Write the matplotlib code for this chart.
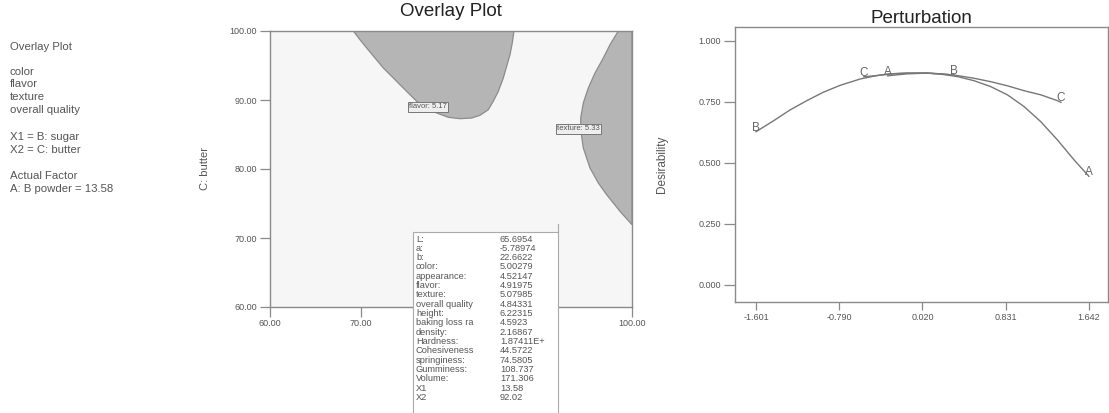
import matplotlib
matplotlib.use("Agg")
import matplotlib.pyplot as plt
from matplotlib.patches import Rectangle, Polygon
from matplotlib.lines import Line2D

plt.rcParams['font.family'] = ['Liberation Sans', 'DejaVu Sans']

# ---------------- data ----------------
side_lines = ["Overlay Plot", "color", "flavor", "texture", "overall quality",
              "X1 = B: sugar", "X2 = C: butter", "Actual Factor", "A: B powder = 13.58"]

overlay_ticks = [60, 70, 80, 90, 100]
overlay_ticklabels = ["60.00", "70.00", "", "", "100.00"]   # 80/90 hidden under the info box
overlay_yticklabels = ["60.00", "70.00", "80.00", "90.00", "100.00"]

# flavor region boundary (sugar, butter)
flavor_x = [69.21, 69.94, 70.68, 71.60, 72.52, 73.45, 74.36, 75.28, 76.21, 77.31, 78.42, 79.70,
            80.99, 82.29, 83.20, 84.12, 84.67, 85.23, 85.78, 86.15, 86.52, 86.77, 86.96]
flavor_y = [100.0, 98.74, 97.54, 96.09, 94.64, 93.43, 92.22, 91.01, 89.81, 88.84, 88.12, 87.49,
            87.29, 87.39, 87.78, 88.59, 89.81, 91.26, 93.19, 94.88, 96.57, 98.26, 100.0]
# texture region boundary
texture_x = [98.49, 97.57, 96.83, 95.91, 95.17, 94.62, 94.33, 94.36, 94.62, 95.36, 96.28,
             97.20, 98.67, 100.0]
texture_y = [100.0, 98.02, 96.09, 93.91, 91.74, 89.57, 87.39, 85.46, 83.04, 80.14, 77.97,
             76.28, 73.87, 71.93]

flag_flavor = ("flavor: 5.17", 77.5, 89.0)
flag_texture = ("texture: 5.33", 94.1, 85.8)

info_labels = ["L:", "a:", "b:", "color:", "appearance:", "flavor:", "texture:",
               "overall quality", "height:", "baking loss ra", "density:", "Hardness:",
               "Cohesiveness", "springiness:", "Gumminess:", "Volume:", "X1", "X2"]
info_values = ["65.6954", "-5.78974", "22.6622", "5.00279", "4.52147", "4.91975", "5.07985",
               "4.84331", "6.22315", "4.5923", "2.16867", "1.87411E+", "44.5722", "74.5805",
               "108.737", "171.306", "13.58", "92.02"]

pert_xticks = [-1.601, -0.790, 0.020, 0.831, 1.642]
pert_xticklabels = ["-1.601", "-0.790", "0.020", "0.831", "1.642"]
pert_yticks = [0.0, 0.25, 0.5, 0.75, 1.0]
pert_yticklabels = ["0.000", "0.250", "0.500", "0.750", "1.000"]

A_x = [-0.32, -0.13, 0.066, 0.196, 0.359, 0.522, 0.684, 0.848, 1.010, 1.173, 1.336, 1.498, 1.642]
A_y = [0.857, 0.865, 0.868, 0.864, 0.854, 0.837, 0.813, 0.779, 0.731, 0.669, 0.594, 0.512, 0.445]
B_x = [-1.601, -1.433, -1.270, -1.107, -0.944, -0.781, -0.586, -0.423, -0.293, -0.130, 0.066,
       0.196, 0.33]
B_y = [0.628, 0.672, 0.717, 0.755, 0.790, 0.818, 0.844, 0.858, 0.865, 0.868, 0.868, 0.865, 0.860]
C_x = [-0.55, -0.423, -0.293, -0.130, 0.066, 0.196, 0.33, 0.522, 0.684, 0.848, 1.010, 1.173,
       1.336, 1.37]
C_y = [0.853, 0.858, 0.865, 0.868, 0.868, 0.865, 0.860, 0.847, 0.833, 0.816, 0.796, 0.779,
       0.755, 0.748]

# ---------------- figure ----------------
W, H = 1109, 413
fig = plt.figure(figsize=(W / 100, H / 100), dpi=100)
fig.patch.set_facecolor('white')

txt_col = '#555555'
spine_col = '#8a8a8a'


def fx(px):
    return px / W


def fy(py):
    return 1 - py / H


# side text
side_ypos = [47, 72, 84, 97, 110, 137, 150, 176, 189]
for s, yp in zip(side_lines, side_ypos):
    fig.text(fx(10), fy(yp), s, fontsize=8.2, color=txt_col, va='center', ha='left')


def style_axes(ax):
    for sp in ax.spines.values():
        sp.set_color(spine_col)
        sp.set_linewidth(1.0)
    ax.tick_params(direction='out', length=7, width=0.9, color=spine_col,
                   labelsize=6.5, labelcolor=txt_col, pad=2)


# ---------------- overlay plot ----------------
ax1 = fig.add_axes([fx(270), fy(307), fx(632) - fx(270), fy(31) - fy(307)])
ax1.set_facecolor('#f6f6f6')
ax1.set_xlim(60, 100)
ax1.set_ylim(60, 100)
style_axes(ax1)
ax1.set_xticks(overlay_ticks)
ax1.set_yticks(overlay_ticks)
ax1.set_xticklabels(overlay_ticklabels)
ax1.set_yticklabels(overlay_yticklabels)
ax1.tick_params(axis='y', length=7.5, pad=2)

ax1.add_patch(Polygon(list(zip(flavor_x, flavor_y)), closed=True,
                      facecolor='#b5b5b5', edgecolor='#8c8c8c', linewidth=0.9))
tex_poly = list(zip(texture_x, texture_y)) + [(100.0, 100.0)]
ax1.add_patch(Polygon(tex_poly, closed=True,
                      facecolor='#b5b5b5', edgecolor='#8c8c8c', linewidth=0.9))
for lab, xx, yy in (flag_flavor, flag_texture):
    ax1.text(xx, yy, lab, fontsize=5.5, color='#555555', ha='center', va='center',
             bbox=dict(boxstyle='square,pad=0.15', facecolor='#eeeeee',
                       edgecolor='#777777', linewidth=0.7))

ax1.set_title("Overlay Plot", fontsize=13.5, color='#222222', pad=11)
ax1.set_ylabel("C: butter", fontsize=8, color=txt_col, labelpad=14)

# info box
box = Rectangle((fx(413), fy(420)), fx(558) - fx(413), fy(232) - fy(420),
                transform=fig.transFigure, facecolor='white', edgecolor='#aaaaaa',
                linewidth=0.8, zorder=10)
fig.patches.append(box)
fig.add_artist(Line2D([fx(558), fx(558)], [fy(232), fy(224)], color='#aaaaaa',
                      linewidth=0.8, zorder=10))
for i, (lab, val) in enumerate(zip(info_labels, info_values)):
    yp = 239 + i * 9.33
    fig.text(fx(416), fy(yp), lab, fontsize=6.7, color=txt_col, va='center', ha='left', zorder=11)
    fig.text(fx(500), fy(yp), val, fontsize=6.7, color=txt_col, va='center', ha='left', zorder=11)

# ---------------- perturbation ----------------
ax2 = fig.add_axes([fx(735), fy(302), fx(1108) - fx(735), fy(27) - fy(302)])
ax2.set_facecolor('white')
ax2.set_xlim(-1.806, 1.828)
ax2.set_ylim(-0.07, 1.057)
style_axes(ax2)
ax2.set_xticks(pert_xticks)
ax2.set_xticklabels(pert_xticklabels)
ax2.set_yticks(pert_yticks)
ax2.set_yticklabels(pert_yticklabels)
ax2.tick_params(axis='y', length=8)
ax2.tick_params(axis='x', length=6)

line_col = '#777777'
for xs, ys, name in ((A_x, A_y, 'A'), (B_x, B_y, 'B'), (C_x, C_y, 'C')):
    ax2.plot(xs, ys, color=line_col, linewidth=1.0)
    for xe, ye in ((xs[0], ys[0]), (xs[-1], ys[-1])):
        ax2.annotate(name, (xe, ye), xytext=(0, 3), textcoords='offset points',
                     fontsize=8.5, color='#666666', ha='center', va='center')

ax2.set_title("Perturbation", fontsize=13.5, color='#222222', pad=2)
ax2.set_ylabel("Desirability", fontsize=8.5, color=txt_col, labelpad=22)

fig.savefig("out.png", dpi=100, facecolor='white')
